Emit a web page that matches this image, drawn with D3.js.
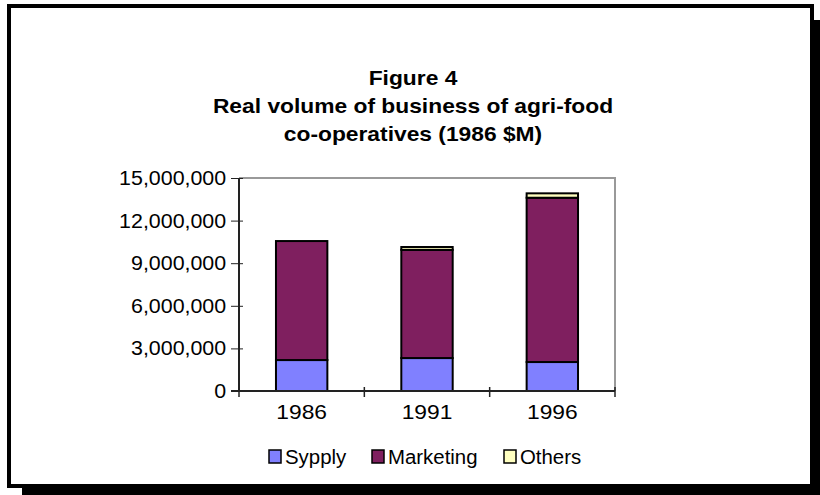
<!DOCTYPE html>
<html><head><meta charset="utf-8">
<script src="https://cdn.jsdelivr.net/npm/d3@7"></script>
<style>body{margin:0;background:#fff}svg{display:block}</style>
</head><body>
<svg id="c" width="820" height="495"></svg>
<script>
const years = ["1986", "1991", "1996"];
const seriesNames = ["Sypply", "Marketing", "Others"];
const supply = [2180000, 2320000, 2040000];
const marketing = [8380000, 7620000, 11570000];
const others = [0, 200000, 310000];
const yTicks = [0, 3000000, 6000000, 9000000, 12000000, 15000000];
const titleLines = ["Figure 4", "Real volume of business of agri-food", "co-operatives (1986 $M)"];
const colors = ["#8080ff", "#7f1f5f", "#ffffc0"];

const svg = d3.select("#c");
const font = "'Liberation Sans', Arial, sans-serif";
const SX = 1.14;

// frame with shadow
svg.append("rect").attr("x", 22).attr("y", 20).attr("width", 798).attr("height", 475).attr("fill", "#000");
svg.append("rect").attr("x", 9).attr("y", 6).attr("width", 803).attr("height", 480)
  .attr("fill", "#fff").attr("stroke", "#000").attr("stroke-width", 4);

// title
svg.append("g").selectAll("text").data(titleLines).join("text")
  .attr("transform", (d, i) => `translate(413,${85 + i * 28}) scale(${SX},1)`)
  .attr("text-anchor", "middle").attr("font-family", font)
  .attr("font-weight", "bold").attr("font-size", 20).text(d => d);

const x0 = 239, x1 = 615, yTop = 178, yBot = 391;
const x = d3.scaleBand().domain(years).range([x0, x1]).paddingInner(0.59).paddingOuter(0.295);
const y = d3.scaleLinear().domain([0, 15000000]).range([yBot, yTop]);

// plot frame (gray top & right)
svg.append("path").attr("d", `M${x0},${yTop}H${x1}V${yBot}`).attr("fill", "none")
  .attr("stroke", "#999").attr("stroke-width", 2);

const data = years.map((yr, i) => ({year: yr, Sypply: supply[i], Marketing: marketing[i], Others: others[i]}));
const stack = d3.stack().keys(seriesNames)(data);

svg.append("g").selectAll("g").data(stack).join("g")
  .attr("fill", (d, i) => colors[i])
  .selectAll("rect").data(d => d.filter(p => p[1] > p[0])).join("rect")
  .attr("x", d => x(d.data.year)).attr("width", x.bandwidth())
  .attr("y", d => y(d[1])).attr("height", d => y(d[0]) - y(d[1]))
  .attr("stroke", "#000").attr("stroke-width", 2);

// y axis
const yAxis = svg.append("g").attr("transform", `translate(${x0},0)`)
  .call(d3.axisLeft(y).tickValues(yTicks).tickFormat(d3.format(",")).tickSize(8).tickPadding(4));
yAxis.select(".domain").attr("stroke", "#222").attr("stroke-width", 2).attr("d", `M0,${yTop}V${yBot}`);
yAxis.selectAll(".tick line").attr("stroke", "#222").attr("x1", -8).attr("x2", 4);
yAxis.selectAll("text").attr("font-family", font).attr("font-size", 20).attr("fill", "#000")
  .attr("transform", "scale(1.07,1)");

// x axis
const xAxis = svg.append("g").attr("transform", `translate(0,${yBot})`)
  .call(d3.axisBottom(x).tickSize(0).tickPadding(14));
xAxis.select(".domain").attr("stroke", "#222").attr("stroke-width", 2).attr("d", `M${x0 - 8},0H${x1}`);
xAxis.selectAll("text").attr("font-family", font).attr("font-size", 20).attr("fill", "#000")
  .attr("transform", `scale(${SX},1)`).attr("x", 0);
svg.append("g").selectAll("line").data(d3.range(years.length + 1)).join("line")
  .attr("x1", i => x0 + i * (x1 - x0) / years.length).attr("x2", i => x0 + i * (x1 - x0) / years.length)
  .attr("y1", yBot - 4).attr("y2", yBot + 6).attr("stroke", "#222").attr("stroke-width", 1.5);

// legend
const legendX = [269, 372, 504];
const lg = svg.append("g").selectAll("g").data(seriesNames).join("g")
  .attr("transform", (d, i) => `translate(${legendX[i]},450)`);
lg.append("rect").attr("width", 12).attr("height", 13).attr("fill", (d, i) => colors[i])
  .attr("stroke", "#000").attr("stroke-width", 1.5);
lg.append("text").attr("transform", "translate(16,14) scale(1.02,1)")
  .attr("font-family", font).attr("font-size", 20).text(d => d);
</script>
</body></html>
